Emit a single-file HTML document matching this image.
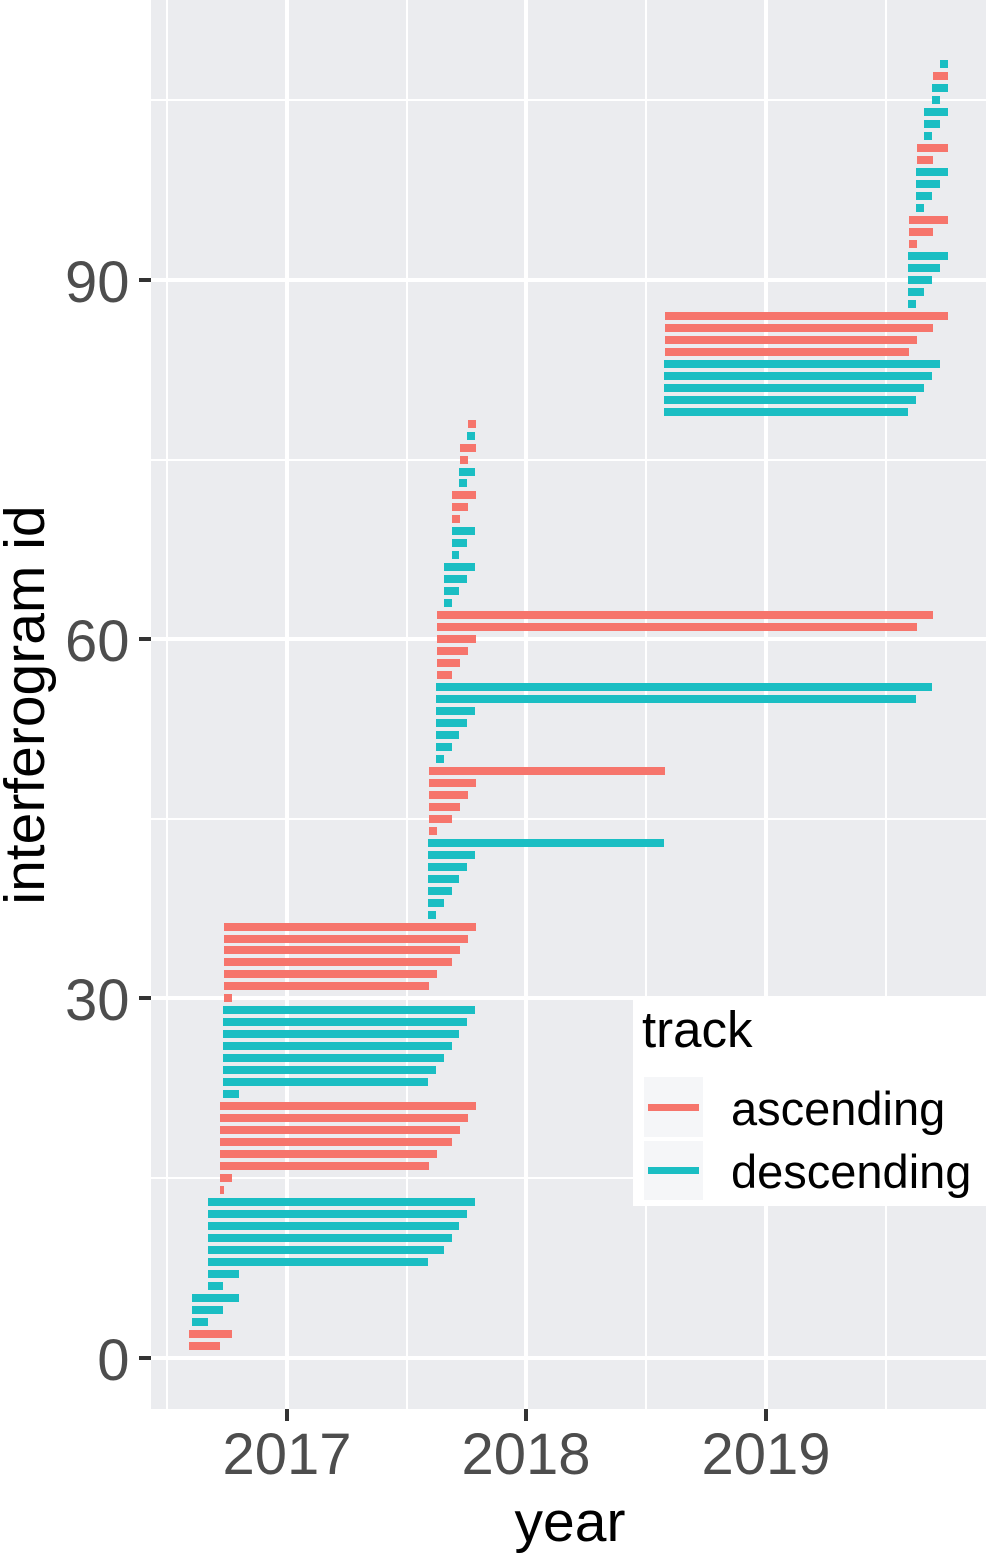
<!DOCTYPE html>
<html lang="en">
<head>
<meta charset="utf-8">
<title>Interferogram timeline</title>
<style>
html,body{margin:0;padding:0;background:#fff;}
svg{display:block;font-family:"Liberation Sans",Arial,sans-serif;}
</style>
</head>
<body>
<svg id="chart" xmlns="http://www.w3.org/2000/svg" width="986" height="1553" viewBox="0 0 986 1553">
<rect x="151" y="0" width="835" height="1409" fill="#ebecef"/>
<g id="grid"></g>
<g id="bars"></g>
<g id="axes"></g>
<text x="570" y="1541" font-size="57" text-anchor="middle" fill="#000">year</text>
<text transform="translate(44,705) rotate(-90)" font-size="57" text-anchor="middle" fill="#000">interferogram id</text>
<g>
<rect x="633" y="996" width="353" height="210" fill="#fff"/>
<text x="642" y="1047" font-size="51" fill="#000">track</text>
<rect x="644" y="1077" width="59" height="60" fill="#f5f6f8"/>
<rect x="648" y="1104" width="51" height="7" fill="#f6756c"/>
<text x="731" y="1125" font-size="47" fill="#000">ascending</text>
<rect x="644" y="1141" width="59" height="59" fill="#f5f6f8"/>
<rect x="648" y="1167" width="51" height="7" fill="#1abec3"/>
<text x="731" y="1188" font-size="47" fill="#000">descending</text>
</g>
</svg>
<script>
const trackSeries = ["A","A","D","D","D","D","D","D","D","D","D","D","D","A","A","A","A","A","A","A","A","D","D","D","D","D","D","D","D","A","A","A","A","A","A","A","D","D","D","D","D","D","D","A","A","A","A","A","A","D","D","D","D","D","D","D","A","A","A","A","A","A","D","D","D","D","D","D","D","A","A","A","D","D","A","A","D","A","D","D","D","D","D","A","A","A","A","D","D","D","D","D","A","A","A","D","D","D","D","A","A","D","D","D","D","D","A","D"];
const startYears = [
2016.591,2016.591,2016.603,2016.603,2016.603,2016.670,2016.670,2016.670,2016.670,2016.670,
2016.670,2016.670,2016.670,2016.720,2016.720,2016.720,2016.720,2016.720,2016.720,2016.720,
2016.720,2016.733,2016.733,2016.733,2016.733,2016.733,2016.733,2016.733,2016.733,2016.737,
2016.737,2016.737,2016.737,2016.737,2016.737,2016.737,2017.589,2017.589,2017.589,2017.589,
2017.589,2017.589,2017.589,2017.593,2017.593,2017.593,2017.593,2017.593,2017.593,2017.622,
2017.622,2017.622,2017.622,2017.622,2017.622,2017.622,2017.626,2017.626,2017.626,2017.626,
2017.626,2017.626,2017.656,2017.656,2017.656,2017.656,2017.689,2017.689,2017.689,2017.689,
2017.689,2017.689,2017.718,2017.718,2017.722,2017.722,2017.752,2017.756,2018.574,2018.574,
2018.574,2018.574,2018.574,2018.578,2018.578,2018.578,2018.578,2019.593,2019.593,2019.593,
2019.593,2019.593,2019.597,2019.597,2019.597,2019.626,2019.626,2019.626,2019.626,2019.630,
2019.630,2019.660,2019.660,2019.660,2019.693,2019.693,2019.697,2019.727];
const endYears = [
2016.720,2016.770,2016.670,2016.733,2016.800,2016.733,2016.800,2017.589,2017.656,2017.689,
2017.718,2017.752,2017.785,2016.737,2016.770,2017.593,2017.626,2017.689,2017.722,2017.756,
2017.789,2016.800,2017.589,2017.622,2017.656,2017.689,2017.718,2017.752,2017.785,2016.770,
2017.593,2017.626,2017.689,2017.722,2017.756,2017.789,2017.622,2017.656,2017.689,2017.718,
2017.752,2017.785,2018.574,2017.626,2017.689,2017.722,2017.756,2017.789,2018.578,2017.656,
2017.689,2017.718,2017.752,2017.785,2019.626,2019.693,2017.689,2017.722,2017.756,2017.789,
2019.630,2019.697,2017.689,2017.718,2017.752,2017.785,2017.718,2017.752,2017.785,2017.722,
2017.756,2017.789,2017.752,2017.785,2017.756,2017.789,2017.785,2017.789,2019.593,2019.626,
2019.660,2019.693,2019.727,2019.597,2019.630,2019.697,2019.760,2019.626,2019.660,2019.693,
2019.727,2019.760,2019.630,2019.697,2019.760,2019.660,2019.693,2019.727,2019.760,2019.697,
2019.760,2019.693,2019.727,2019.760,2019.727,2019.760,2019.760,2019.760];
const xTickYears = [2017, 2018, 2019];
const xMinorYears = [2016.5, 2017.5, 2018.5, 2019.5];
const yTickIds = [0, 30, 60, 90];
const yMinorIds = [15, 45, 75, 105];

const NS = "http://www.w3.org/2000/svg";
const PANEL = {left: 151, right: 986, top: 0, bottom: 1409};
const trackColor = {A: "#f6756c", D: "#1abec3"};
const trackName = {A: "ascending", D: "descending"};
const xScale = year => 287 + 239.4 * (year - 2017);
const yScale = id => 1357.595 - 11.974 * id;

function shape(parent, tag, attrs, text) {
  const el = document.createElementNS(NS, tag);
  for (const key in attrs) el.setAttribute(key, attrs[key]);
  if (text !== undefined) el.textContent = text;
  parent.appendChild(el);
  return el;
}

const grid = document.getElementById("grid");
const axes = document.getElementById("axes");
const bars = document.getElementById("bars");

function band(parent, x, y, w, h, fill) {
  return shape(parent, "rect", {x: x, y: y, width: w, height: h, fill: fill});
}

yMinorIds.forEach(id => {
  const el = band(grid, PANEL.left, Math.round(yScale(id)) - 1, PANEL.right - PANEL.left, 2, "#fff");
  
  
});
xMinorYears.forEach(year => {
  const el = band(grid, Math.round(xScale(year)) - 1, PANEL.top, 2, PANEL.bottom - PANEL.top, "#fff");
  
  
});
yTickIds.forEach(id => {
  const el = band(grid, PANEL.left, Math.round(yScale(id)) - 2, PANEL.right - PANEL.left, 4, "#fff");
  
  
});
xTickYears.forEach(year => {
  const el = band(grid, Math.round(xScale(year)) - 2, PANEL.top, 4, PANEL.bottom - PANEL.top, "#fff");
  
  
});

trackSeries.forEach((track, i) => {
  const id = i + 1;
  const x0 = Math.round(xScale(startYears[i]));
  const x1 = Math.round(xScale(endYears[i]));
  const el = band(bars, x0, Math.round(yScale(id) - 4), x1 - x0, 8, trackColor[track]);
  
  
});

yTickIds.forEach(id => {
  const y = Math.round(yScale(id));
  const tick = band(axes, 139, y - 2, 12, 4, "#333");
  
  
  const label = shape(axes, "text", {x: 129.5, y: y + 22, "font-size": 58, "text-anchor": "end", fill: "#4d4d4d"}, String(id));
  
  
});
xTickYears.forEach(year => {
  const x = Math.round(xScale(year));
  const tick = band(axes, x - 2, 1409, 4, 12, "#333");
  
  
  const label = shape(axes, "text", {x: x, y: 1474, "font-size": 58, "text-anchor": "middle", fill: "#4d4d4d"}, String(year));
  
  
});
</script>
</body>
</html>
